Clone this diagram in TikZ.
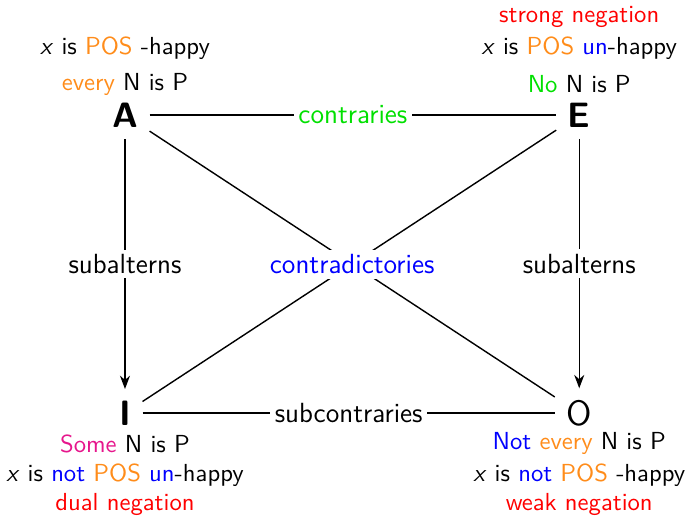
\documentclass[tikz,border=0pt]{standalone}
\usepackage{tikz}
\usetikzlibrary{arrows.meta,positioning}
\definecolor{posorange}{HTML}{FF8C1A}
\definecolor{nogreen}{HTML}{00E000}
\definecolor{somepink}{HTML}{E6168C}

\begin{document}
\begin{tikzpicture}[font=\sffamily\fontsize{10.5}{12.6}\selectfont,
  corner/.style={font=\sffamily\fontsize{15}{18}\selectfont\bfseries,inner sep=1pt,outer sep=4pt},
  rel/.style={fill=white,inner sep=2pt,font=\sffamily\fontsize{11.8}{14}\selectfont},
  gloss/.style={inner sep=1pt},
  link/.style={semithick}]
  \useasboundingbox (-1.871,-6.063) rectangle (8.428,1.722);

  % Corners of the square
  \node[corner] (A) at (0,0) {A};
  \node[corner] (E) at (6.8,0) {E};
  \node[corner] (I) at (0,-4.46) {I};
  \node[corner,font=\sffamily\fontsize{15}{18}\selectfont] (O) at (6.8,-4.46) {O};

  % Relations
  \draw[link] (A) -- node[rel,text=nogreen] (contr) {contraries} (E);
  \draw[link,-{Stealth}] (A) -- node[rel] (subA) {subalterns} (I);
  \draw[link,-{Stealth}] (E) -- node[rel] (subE) {subalterns} (O);
  \draw[link] (I) -- node[rel] (subc) {subcontraries} (O);
  \draw[link] (E) -- (I);
  \draw[link] (A) -- node[rel,text=blue] (contra) {contradictories} (O);

  % A
  \node[gloss] (Aq) at (0,0.464) {\textcolor{posorange}{every} N is P};
  \node[gloss] (Ax) at (0,1.003) {\textit{x} is \textcolor{posorange}{POS} -happy};

  % E
  \node[gloss] (Eq) at (6.8,0.464) {\textcolor{nogreen}{No} N is P};
  \node[gloss] (Ex) at (6.8,1.003) {\textit{x} is \textcolor{posorange}{POS} \textcolor{blue}{un}-happy};
  \node[gloss,text=red] (En) at (6.8,1.467) {strong negation};

  % I
  \node[gloss] (Iq) at (0,-4.92) {\textcolor{somepink}{Some} N is P};
  \node[gloss] (Ix) at (0,-5.388) {\textit{x} is \textcolor{blue}{not} \textcolor{posorange}{POS} \textcolor{blue}{un}-happy};
  \node[gloss,text=red] (In) at (0,-5.837) {dual negation};

  % O
  \node[gloss] (Oq) at (6.8,-4.92) {\textcolor{blue}{Not} \textcolor{posorange}{every} N is P};
  \node[gloss] (Ox) at (6.8,-5.388) {\textit{x} is \textcolor{blue}{not} \textcolor{posorange}{POS} -happy};
  \node[gloss,text=red] (On) at (6.8,-5.837) {weak negation};
\end{tikzpicture}
\end{document}
